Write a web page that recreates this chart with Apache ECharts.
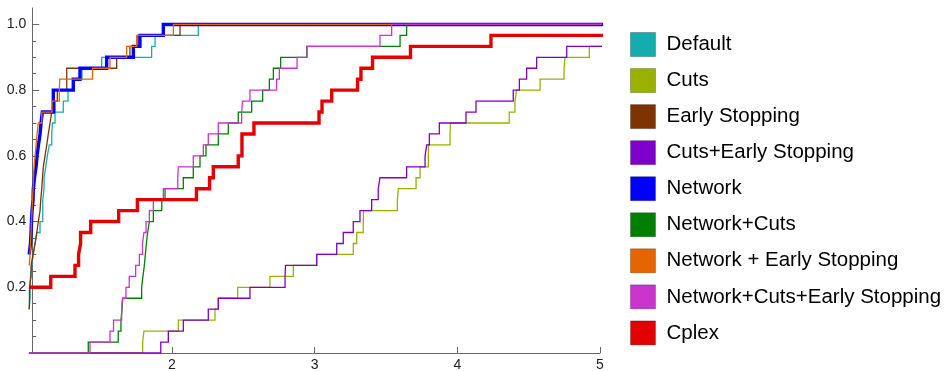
<!DOCTYPE html>
<html>
<head>
<meta charset="utf-8">
<script src="https://cdn.jsdelivr.net/npm/echarts@6/dist/echarts.min.js"></script>
<style>
html, body { margin: 0; padding: 0; background: #fff; }
#chart { width: 947px; height: 371px; }
</style>
</head>
<body>
<div id="chart"></div>
<script>
var names = ["Default", "Cuts", "Early Stopping", "Cuts+Early Stopping", "Network",
	"Network+Cuts", "Network + Early Stopping", "Network+Cuts+Early Stopping", "Cplex"];
var colors = ["#14adad", "#9ab100", "#7f3300", "#7f00cc", "#0000ff",
	"#007f00", "#e56600", "#cc33cc", "#e50000"];
var widths = [1.3, 1.3, 1.3, 1.3, 3.4, 1.3, 1.3, 1.3, 3.4];
var total = 30; // number of instances

// performance ratio of every solved instance (sorted), one list per solver
var ratioDefault = [1, 1, 1, 1, 1.006, 1.006, 1.009, 1.018, 1.029, 1.041, 1.055, 1.076, 1.095, 1.095, 1.104,
	1.104, 1.116, 1.127, 1.141, 1.158, 1.163, 1.181, 1.239, 1.272, 1.309, 1.370, 1.508, 1.858, 1.882, 2.185];
var ratioCuts = [1.795, 1.804, 2.045, 2.302, 2.325, 2.461, 2.687, 2.851, 3.015, 3.271, 3.295, 3.341, 3.343, 3.580,
	3.587, 3.711, 3.739, 3.797, 3.798, 3.949, 3.952, 4.364, 4.404, 4.416, 4.580, 4.748, 4.755, 4.925];
var ratioEarly = [1, 1, 1, 1, 1.002, 1.002, 1.013, 1.013, 1.027, 1.041, 1.053, 1.064, 1.076, 1.081, 1.088,
	1.093, 1.099, 1.111, 1.123, 1.134, 1.146, 1.158, 1.181, 1.197, 1.263, 1.263, 1.613, 1.706, 1.762, 2.057];
var ratioCutsEarly = [1.922, 1.975, 2.080, 2.255, 2.325, 2.547, 2.793, 2.796, 3.015, 3.155, 3.201, 3.271, 3.318, 3.400,
	3.446, 3.458, 3.645, 3.774, 3.786, 3.804, 3.874, 4.061, 4.131, 4.392, 4.435, 4.486, 4.556, 4.767];
var ratioNetwork = [1, 1, 1, 1, 1, 1, 1, 1, 1, 1.009, 1.013, 1.016, 1.020, 1.027, 1.029,
	1.037, 1.048, 1.055, 1.065, 1.076, 1.083, 1.092, 1.169, 1.169, 1.309, 1.356, 1.543, 1.730, 1.776, 1.940];
var ratioNetCuts = [1.414, 1.624, 1.643, 1.650, 1.655, 1.788, 1.797, 1.807, 1.814, 1.821, 1.830, 1.842, 1.870, 1.929, 1.952,
	2.080, 2.150, 2.197, 2.239, 2.325, 2.395, 2.465, 2.559, 2.636, 2.683, 2.711, 2.762, 2.945, 3.599, 3.645];
var ratioNetEarly = [1, 1, 1, 1, 1, 1, 1, 1, 1.006, 1.009, 1.013, 1.016, 1.020, 1.023, 1.027,
	1.030, 1.034, 1.041, 1.048, 1.055, 1.064, 1.088, 1.160, 1.211, 1.214, 1.444, 1.566, 1.683, 1.753, 2.010];
var ratioNetCutsEarly = [1.426, 1.566, 1.591, 1.648, 1.654, 1.678, 1.701, 1.746, 1.772, 1.794, 1.804, 1.819, 1.842, 1.870, 1.940,
	2.041, 2.045, 2.150, 2.220, 2.255, 2.325, 2.489, 2.495, 2.547, 2.734, 2.753, 2.877, 2.947, 3.458, 3.540];
var ratioCplex = [1, 1, 1, 1, 1, 1, 1.151, 1.321, 1.346, 1.360, 1.360, 1.431, 1.627, 1.758, 2.172,
	2.264, 2.290, 2.465, 2.491, 2.491, 2.575, 3.031, 3.052, 3.120, 3.301, 3.325, 3.406, 3.672, 4.236];

var ratios = [ratioDefault, ratioCuts, ratioEarly, ratioCutsEarly, ratioNetwork,
	ratioNetCuts, ratioNetEarly, ratioNetCutsEarly, ratioCplex];

var xTicks = [2, 3, 4, 5];
var yLabels = [0.2, 0.4, 0.6, 0.8, 1.0];
var yMinor = [0.05, 0.1, 0.15, 0.25, 0.3, 0.35, 0.45, 0.5, 0.55, 0.65, 0.7, 0.75, 0.85, 0.9, 0.95];

// fraction of instances solved within ratio tau
function profile(r) {
	var pts = [];
	var n0 = 0;
	for (var i = 0; i < r.length; i++) {
		if (r[i] <= 1) n0++;
	}
	pts.push([1, n0 / total]);
	for (var i = 0; i < r.length; i++) {
		if (r[i] > 1) pts.push([r[i], (i + 1) / total]);
	}
	pts.push([5.5, r.length / total]);
	return pts;
}

var series = [];
var legendData = [];
for (var s = 0; s < names.length; s++) {
	series.push({
		name: names[s],
		type: 'line',
		step: 'end',
		showSymbol: false,
		data: profile(ratios[s]),
		color: colors[s],
		lineStyle: { width: widths[s], color: colors[s], join: 'miter', cap: 'butt' },
		z: 2 + s
	});
	legendData.push({
		name: names[s],
		icon: 'rect',
		itemStyle: { color: colors[s], borderColor: 'rgba(0,0,0,0.25)', borderWidth: 1 }
	});
}

var chart = echarts.init(document.getElementById('chart'));
chart.setOption({
	animation: false,
	backgroundColor: '#fff',
	grid: { left: 29.2, right: 347, top: 8, bottom: 18, containLabel: false, outerBoundsMode: 'none' },
	legend: {
		orient: 'vertical',
		left: 630,
		top: 32,
		padding: 0,
		itemWidth: 25,
		itemHeight: 24,
		itemGap: 11.05,
		selectedMode: false,
		data: legendData,
		textStyle: { fontSize: 20.5, lineHeight: 24, padding: [0, 0, 0, 6], fontFamily: 'Liberation Sans, Arial, sans-serif', color: '#000' }
	},
	xAxis: {
		type: 'value',
		min: 1,
		max: 5,
		interval: 1,
		axisLine: { lineStyle: { color: '#666', width: 1 } },
		axisTick: { inside: true, length: 6, customValues: xTicks, lineStyle: { color: '#666' } },
		axisLabel: { customValues: xTicks, margin: 5, fontSize: 14, color: '#222', fontFamily: 'Liberation Sans, Arial, sans-serif' },
		splitLine: { show: false }
	},
	yAxis: [{
		type: 'value',
		min: 0,
		max: 1.05,
		offset: -3,
		axisLine: { show: true, lineStyle: { color: '#666', width: 1 } },
		axisTick: { show: true, inside: true, length: 4, customValues: yMinor, lineStyle: { color: '#666' } },
		axisLabel: { show: false },
		splitLine: { show: false }
	}, {
		type: 'value',
		min: 0,
		max: 1.05,
		offset: -3,
		position: 'left',
		axisLine: { show: false },
		axisTick: { show: true, inside: true, length: 7, customValues: yLabels, lineStyle: { color: '#666' } },
		axisLabel: {
			customValues: yLabels, margin: 6, fontSize: 14, color: '#222',
			fontFamily: 'Liberation Sans, Arial, sans-serif',
			formatter: function (v) { return v.toFixed(1); }
		},
		splitLine: { show: false }
	}],
	series: series
});
</script>
</body>
</html>
